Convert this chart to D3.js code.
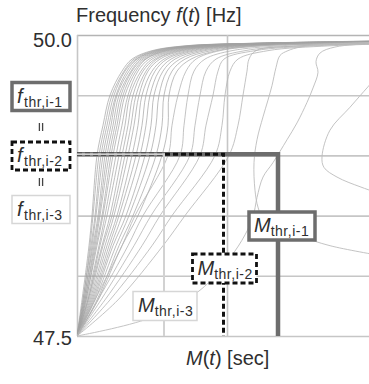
<!DOCTYPE html>
<html>
<head>
<meta charset="utf-8">
<script src="https://cdn.jsdelivr.net/npm/d3@7"></script>
<style>
  html, body { margin: 0; padding: 0; background: #fff; }
  svg { display: block; }
  svg text { font-family: "Liberation Sans", Arial, sans-serif; }
</style>
</head>
<body>
<svg id="chart" width="369" height="384"></svg>
<script>
// Frequency levels (Hz) at which each trajectory's M(t) is sampled
const fanLevels = [47.5, 47.8, 48.25, 48.5, 49.0, 49.25, 49.5, 49.7, 49.8, 49.87, 49.91, 49.93];

// M(t) [sec] of each trajectory at the levels above
const fanM = [
  [0, .05, .12, .15, .20, .26, .33, .45, .55, .75, 1.08, 1.68],
  [0, .06, .13, .16, .22, .28, .35, .47, .57, .77, 1.10, 1.71],
  [0, .06, .14, .18, .24, .30, .37, .48, .59, .79, 1.13, 1.74],
  [0, .07, .15, .19, .26, .32, .39, .50, .60, .81, 1.15, 1.77],
  [0, .07, .16, .21, .28, .34, .40, .52, .62, .83, 1.17, 1.80],
  [0, .08, .17, .22, .30, .36, .42, .54, .64, .85, 1.20, 1.83],
  [0, .08, .18, .23, .32, .38, .44, .55, .66, .87, 1.22, 1.86],
  [0, .09, .19, .25, .34, .40, .46, .57, .68, .89, 1.24, 1.89],
  [0, .09, .20, .26, .36, .42, .48, .59, .69, .91, 1.26, 1.92],
  [0, .10, .22, .28, .39, .45, .51, .61, .72, .94, 1.30, 1.97],
  [0, .11, .23, .30, .42, .48, .53, .64, .75, .97, 1.33, 2.01],
  [0, .11, .25, .33, .45, .51, .56, .66, .78, 1.00, 1.37, 2.06],
  [0, .12, .26, .35, .48, .54, .59, .69, .80, 1.03, 1.40, 2.10],
  [0, .13, .28, .37, .51, .57, .62, .71, .83, 1.06, 1.44, 2.15],
  [0, .14, .30, .40, .55, .61, .65, .75, .87, 1.10, 1.48, 2.21],
  [0, .15, .32, .42, .59, .65, .69, .78, .90, 1.14, 1.53, 2.27],
  [0, .16, .34, .45, .63, .69, .73, .82, .94, 1.18, 1.58, 2.33],
  [0, .17, .36, .49, .68, .74, .77, .86, .98, 1.23, 1.63, 2.40],
  [0, .18, .39, .52, .73, .79, .82, .90, 1.03, 1.28, 1.69, 2.48],
  [0, .20, .42, .56, .79, .85, .87, .95, 1.08, 1.34, 1.76, 2.57],
  [0, .21, .45, .61, .85, .91, .92, 1.00, 1.14, 1.40, 1.83, 2.66],
  [0, .18, .45, .58, .91, .95, 1.01, 1.09, 1.19, 1.43, 1.85, 2.53],
  [0, .21, .51, .66, 1.03, 1.07, 1.11, 1.17, 1.28, 1.55, 2.03, 2.73],
  [0, .24, .57, .74, 1.13, 1.18, 1.23, 1.29, 1.39, 1.68, 2.21, 2.93],
  [0, .28, .65, .83, 1.23, 1.29, 1.36, 1.41, 1.47, 1.78, 2.38, 3.13],
  [0, .33, .75, .95, 1.38, 1.45, 1.48, 1.53, 1.61, 1.91, 2.53, 3.23],
  [0, .41, .86, 1.08, 1.52, 1.61, 1.66, 1.70, 1.72, 1.79, 2.23, 3.03]
];

// Final settled frequency of each trajectory, reached at tailM
const fanTailF = [49.958, 49.957, 49.956, 49.955, 49.954, 49.953, 49.952, 49.951, 49.95,
  49.949, 49.948, 49.947, 49.946, 49.945, 49.944, 49.943, 49.942, 49.941, 49.94, 49.94,
  49.94, 49.94, 49.94, 49.94, 49.94, 49.94, 49.94];
const tailM = 3.6;

// Slow, oscillating trajectories given as [M, f] points
const slowA = [[3.02, 48.17], [2.53, 48.25], [2.23, 48.33], [2.03, 48.40], [1.87, 48.46],
  [1.81, 48.57], [1.78, 48.71], [1.77, 48.94], [1.80, 49.13], [1.86, 49.32], [1.91, 49.46],
  [1.95, 49.58], [1.99, 49.73], [2.03, 49.83], [2.11, 49.87], [2.23, 49.90], [2.43, 49.92],
  [3.60, 49.95]];
const slowB = [[0, 47.5], [0.73, 47.65], [1.23, 47.88], [1.53, 48.15], [1.68, 48.34],
  [1.76, 48.49], [1.80, 48.65], [1.86, 48.82], [1.96, 48.94], [2.10, 49.13], [2.20, 49.27],
  [2.30, 49.44], [2.36, 49.56], [2.41, 49.69], [2.39, 49.78], [2.43, 49.85], [2.58, 49.90],
  [3.02, 49.93], [3.60, 49.94]];
const slowC = [[3.60, 48.63], [3.02, 48.69], [2.83, 48.74], [2.60, 48.82], [2.47, 48.90],
  [2.45, 48.99], [2.53, 49.21], [2.73, 49.40], [2.91, 49.57], [3.02, 49.67], [3.60, 49.83]];

// Thresholds: frequency (equal for all three) and the M value of each stage
const thrNames = ["i-1", "i-2", "i-3"];
const fThr = [49.01, 49.01, 49.01];
const mThr = [2.01, 1.465, 0.87];

// Axis ticks
const yTicks = [47.5, 48.0, 48.5, 49.0, 49.5, 50.0];
const yLabelTicks = [47.5, 50.0];
const xGridTicks = [0, 1.5];

const svg = d3.select("#chart");
const plotLeft = 77, plotRight = 369, plotTop = 35, plotBottom = 336;

const x = d3.scaleLinear().domain([0, 2.92]).range([plotLeft, plotRight]);
const y = d3.scaleLinear().domain([47.5, 50.0]).range([plotBottom, plotTop]);

svg.append("defs").append("clipPath").attr("id", "plotClip")
  .append("rect").attr("x", plotLeft).attr("y", plotTop - 1)
  .attr("width", plotRight - plotLeft).attr("height", plotBottom - plotTop + 2);

const gridColor = "#c6c6c6";
const ink = "#2f2f2f";

// Horizontal grid + frequency labels
const yAxis = svg.append("g").attr("transform", `translate(${plotLeft},0)`)
  .call(d3.axisLeft(y).tickValues(yTicks).tickSize(-(plotRight - plotLeft)).tickPadding(5)
    .tickFormat(d => yLabelTicks.includes(d) ? d.toFixed(1) : ""));
yAxis.select(".domain").remove();
yAxis.selectAll(".tick line").attr("stroke", gridColor).attr("stroke-width", 1.6);
yAxis.selectAll(".tick text")
  .attr("font-size", 20).attr("fill", ink)
  .attr("dy", d => d === 50.0 ? "0.55em" : "0.42em");
yAxis.selectAll(".tick").filter(d => d === 50.0).select("line").attr("stroke", "#b4b4b4");

// Vertical grid
const xAxis = svg.append("g").attr("transform", `translate(0,${plotBottom})`)
  .call(d3.axisBottom(x).tickValues(xGridTicks).tickSize(-(plotBottom - plotTop)).tickFormat(""));
xAxis.select(".domain").remove();
xAxis.selectAll(".tick line").attr("stroke", gridColor).attr("stroke-width", 1.6);

// Trajectories
const line = d3.line().x(d => x(d[0])).y(d => y(d[1])).curve(d3.curveCatmullRom.alpha(0.5));
const curves = svg.append("g").attr("clip-path", "url(#plotClip)").attr("fill", "none");

fanM.forEach((ms, i) => {
  const pts = ms.map((m, j) => [m, fanLevels[j]]).concat([[tailM, fanTailF[i]]]);
  curves.append("path").attr("d", line(pts))
    .attr("stroke", i < 21 ? "#a2a2a2" : "#b4b4b4")
    .attr("stroke-width", i < 21 ? 0.7 : 0.8);
});
[slowA, slowB, slowC].forEach(pts => {
  curves.append("path").attr("d", line(pts))
    .attr("stroke", "#bcbcbc").attr("stroke-width", 0.9);
});

// Threshold paths: horizontal at f_thr from M = 0, then down to 47.5 at M_thr
const thrStyle = [
  { stroke: "#6d6d6d", width: 4.5, dash: null },
  { stroke: "#111111", width: 3, dash: "5,3" },
  { stroke: "#d2d2d2", width: 2, dash: null }
];
const thrG = svg.append("g").attr("fill", "none");
thrNames.forEach((n, i) => {
  const p = d3.path();
  p.moveTo(x(0), y(fThr[i]));
  p.lineTo(x(mThr[i]), y(fThr[i]));
  p.lineTo(x(mThr[i]), y(47.5));
  thrG.append("path").attr("d", p.toString())
    .attr("stroke", thrStyle[i].stroke)
    .attr("stroke-width", thrStyle[i].width)
    .attr("stroke-dasharray", thrStyle[i].dash)
    .attr("stroke-linejoin", "miter");
});

// Labelled boxes: italic symbol with a subscript
function symbolBox(cx, cy, w, h, style, sym, sub) {
  const g = svg.append("g");
  g.append("rect")
    .attr("x", cx - w / 2).attr("y", cy - h / 2).attr("width", w).attr("height", h)
    .attr("fill", "#fff")
    .attr("stroke", style.stroke).attr("stroke-width", style.box)
    .attr("stroke-dasharray", style.dash);
  const t = g.append("text")
    .attr("x", cx - w / 2 + (sym === "M" ? 5 : 5)).attr("y", cy + 6)
    .attr("fill", ink).attr("font-size", 20);
  t.append("tspan").attr("font-style", "italic").text(sym);
  t.append("tspan").attr("font-size", 14).attr("dx", sym === "M" ? 0 : 1.5).attr("dy", 4)
    .attr("letter-spacing", 0.5).text(sub);
}
const boxStyle = [
  { stroke: "#6d6d6d", box: 3.5, dash: null },
  { stroke: "#111111", box: 2.8, dash: "5,3" },
  { stroke: "#d6d6d6", box: 1.5, dash: null }
];

// Frequency threshold labels on the left
const fBoxY = [96.5, 156, 209.5];
thrNames.forEach((n, i) => symbolBox(41, fBoxY[i], 58, 28, boxStyle[i], "f", "thr," + n));
// equality marks (a vertical "=") between them
[127, 182].forEach(cy => {
  [-1.6, 1.6].forEach(dx => {
    svg.append("line").attr("x1", 41 + dx).attr("x2", 41 + dx)
      .attr("y1", cy - 4).attr("y2", cy + 4)
      .attr("stroke", "#444").attr("stroke-width", 1.3);
  });
});

// Duration threshold labels on the vertical lines
const mBoxY = [226, 268.5, 306];
thrNames.forEach((n, i) => symbolBox(x(mThr[i]) + (i === 0 ? 4 : 1), mBoxY[i], i === 0 ? 66 : 64, i === 0 ? 28 : 29,
  boxStyle[i], "M", "thr," + n));

// Axis titles
const title = svg.append("text").attr("x", 76).attr("y", 22).attr("fill", ink).attr("font-size", 20);
title.append("tspan").text("Frequency ");
title.append("tspan").attr("font-style", "italic").text("f");
title.append("tspan").text("(");
title.append("tspan").attr("font-style", "italic").text("t");
title.append("tspan").text(") [Hz]");

const xt = svg.append("text").attr("x", 186).attr("y", 365).attr("fill", ink).attr("font-size", 20);
xt.append("tspan").attr("font-style", "italic").text("M");
xt.append("tspan").text("(");
xt.append("tspan").attr("font-style", "italic").text("t");
xt.append("tspan").text(") [sec]");
</script>
</body>
</html>
